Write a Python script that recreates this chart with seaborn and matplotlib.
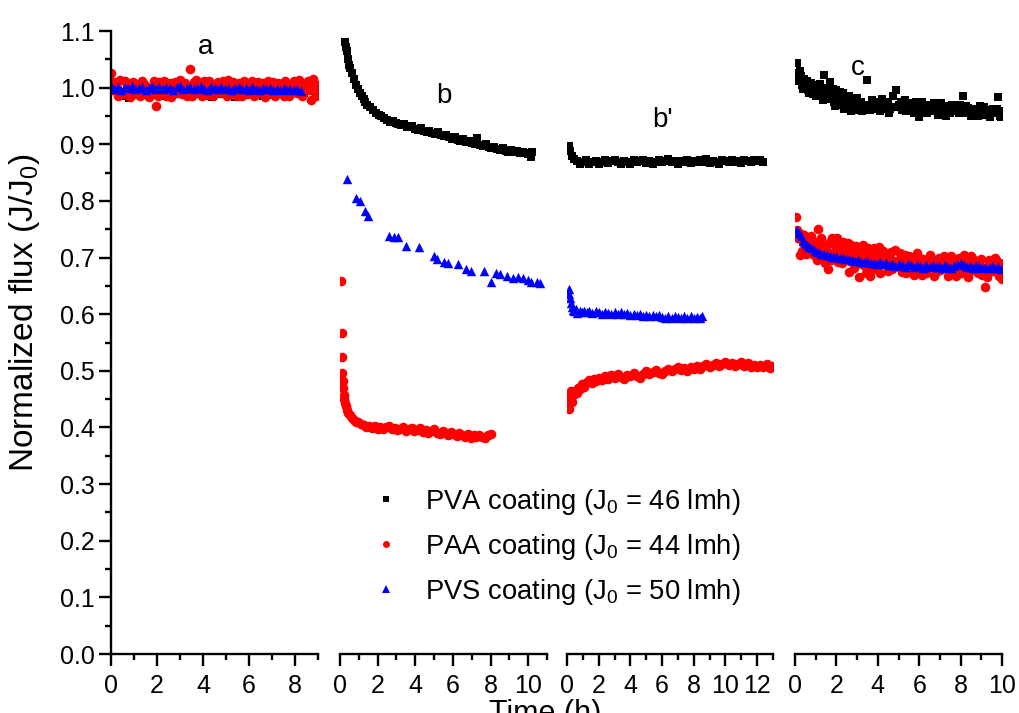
import matplotlib
matplotlib.use("Agg")
import matplotlib.pyplot as plt
import numpy as np
import pandas as pd
import seaborn as sns
from matplotlib.lines import Line2D
from matplotlib.ticker import MultipleLocator, FormatStrFormatter

# ---------------------------------------------------------------- data
# (time in h, normalized flux J/J0) for every coating in every run
pva_a = [(0.0, 1.000), (0.2, 0.995), (0.4, 0.990), (0.6, 0.986), (0.8, 0.982), (1.0, 0.988),
         (1.2, 0.993), (1.4, 0.990), (1.6, 0.987), (1.8, 0.992), (2.0, 0.995), (2.2, 0.990),
         (2.4, 0.985), (2.6, 0.984), (2.8, 0.989), (3.0, 0.993), (3.2, 0.996), (3.4, 0.992),
         (3.6, 0.988), (3.8, 0.994), (4.0, 0.990), (4.2, 0.986), (4.4, 0.984), (4.6, 0.989),
         (4.8, 0.993), (5.0, 0.991), (5.2, 0.987), (5.4, 0.984), (5.6, 0.988), (5.8, 0.992),
         (6.0, 0.995), (6.2, 0.991), (6.4, 0.988), (6.6, 0.985), (6.8, 0.987), (7.0, 0.990),
         (7.2, 0.994), (7.4, 0.992), (7.6, 0.989), (7.8, 0.993), (8.0, 0.996), (8.2, 0.992),
         (8.4, 0.990), (8.6, 0.994)]

paa_a = [(0.00, 1.025), (0.15, 1.010), (0.30, 0.985), (0.45, 0.990), (0.60, 1.012), (0.75, 0.995),
         (0.90, 1.008), (1.05, 0.988), (1.20, 1.005), (1.35, 1.012), (1.50, 0.992), (1.65, 0.984),
         (1.80, 1.000), (1.95, 0.968), (2.10, 1.010), (2.25, 0.994), (2.40, 0.986), (2.55, 1.008),
         (2.70, 1.002), (2.85, 0.990), (3.00, 1.014), (3.15, 0.996), (3.30, 0.986), (3.45, 1.033),
         (3.60, 1.010), (3.75, 0.992), (3.90, 0.998), (4.05, 1.012), (4.20, 0.987), (4.35, 1.006),
         (4.50, 0.994), (4.65, 1.010), (4.80, 0.990), (4.95, 1.002), (5.10, 1.014), (5.25, 0.988),
         (5.40, 0.996), (5.55, 1.008), (5.70, 0.986), (5.85, 1.004), (6.00, 0.993), (6.15, 1.012),
         (6.30, 0.990), (6.45, 1.000), (6.60, 1.008), (6.75, 0.987), (6.90, 0.996), (7.05, 1.010),
         (7.20, 0.992), (7.35, 1.004), (7.50, 0.986), (7.65, 1.006), (7.80, 0.997), (7.95, 1.012),
         (8.10, 0.990), (8.25, 1.004), (8.40, 0.994), (8.55, 1.012), (8.70, 0.978), (8.85, 1.006),
         (9.00, 0.998),
         (0.075, 0.995), (0.225, 1.004), (0.375, 1.013), (0.525, 0.988), (0.675, 1.003), (0.825, 0.984),
         (0.975, 1.010), (1.125, 0.996), (1.275, 0.985), (1.425, 1.006), (1.575, 1.002), (1.725, 0.990),
         (1.875, 1.012), (2.025, 0.985), (2.175, 1.003), (2.325, 1.012), (2.475, 0.995), (2.625, 0.984),
         (2.775, 1.010), (2.925, 1.004), (3.075, 0.988), (3.225, 1.008), (3.375, 0.994), (3.525, 0.985),
         (3.675, 1.013), (3.825, 1.004), (3.975, 0.986), (4.125, 0.996), (4.275, 1.011), (4.425, 0.985),
         (4.575, 1.004), (4.725, 0.993), (4.875, 1.012), (5.025, 0.985), (5.175, 1.000), (5.325, 1.010),
         (5.475, 0.986), (5.625, 0.994), (5.775, 1.012), (5.925, 0.988), (6.075, 1.004), (6.225, 0.985),
         (6.375, 1.010), (6.525, 0.993), (6.675, 0.984), (6.825, 1.012), (6.975, 1.002), (7.125, 0.985),
         (7.275, 1.009), (7.425, 0.994), (7.575, 1.012), (7.725, 0.986), (7.875, 1.004), (8.025, 0.994),
         (8.175, 1.014), (8.325, 0.986), (8.475, 1.008), (8.625, 0.996), (8.775, 1.016), (8.925, 0.985)]

pvs_a = [(0.00, 1.003), (0.15, 0.998), (0.30, 1.002), (0.45, 0.996), (0.60, 1.001), (0.75, 0.999),
         (0.90, 1.003), (1.05, 0.997), (1.20, 1.000), (1.35, 1.002), (1.50, 0.996), (1.65, 0.999),
         (1.80, 1.003), (1.95, 0.998), (2.10, 1.001), (2.25, 0.997), (2.40, 1.002), (2.55, 0.999),
         (2.70, 0.996), (2.85, 1.001), (3.00, 1.003), (3.15, 0.998), (3.30, 1.000), (3.45, 1.002),
         (3.60, 0.997), (3.75, 1.000), (3.90, 1.003), (4.05, 0.998), (4.20, 0.996), (4.35, 1.001),
         (4.50, 0.999), (4.65, 0.997), (4.80, 1.002), (4.95, 0.998), (5.10, 1.000), (5.25, 0.996),
         (5.40, 0.999), (5.55, 1.002), (5.70, 0.997), (5.85, 0.999), (6.00, 0.996), (6.15, 1.001),
         (6.30, 0.998), (6.45, 0.995), (6.60, 0.999), (6.75, 0.997), (6.90, 1.000), (7.05, 0.996),
         (7.20, 0.998), (7.35, 0.995), (7.50, 0.999), (7.65, 0.996), (7.80, 0.998), (7.95, 0.995),
         (8.10, 0.997), (8.25, 0.994)]

pva_b = [(0.25, 1.080), (0.30, 1.072), (0.35, 1.065), (0.45, 1.050), (0.50, 1.040), (0.55, 1.035),
         (0.65, 1.025), (0.75, 1.015), (0.85, 1.005), (0.95, 0.998), (1.05, 0.990), (1.15, 0.985),
         (1.25, 0.980), (1.35, 0.975), (1.45, 0.970), (1.60, 0.965), (1.75, 0.960), (1.90, 0.955),
         (2.05, 0.952), (2.20, 0.950), (2.35, 0.946), (2.50, 0.943), (2.65, 0.940), (2.80, 0.941),
         (2.95, 0.937), (3.10, 0.936), (3.25, 0.934), (3.40, 0.935), (3.55, 0.931), (3.70, 0.930),
         (3.85, 0.932), (4.00, 0.927), (4.15, 0.926), (4.30, 0.928), (4.45, 0.924), (4.60, 0.922),
         (4.75, 0.924), (4.90, 0.920), (5.05, 0.918), (5.20, 0.921), (5.35, 0.916), (5.50, 0.914),
         (5.65, 0.917), (5.80, 0.912), (5.95, 0.910), (6.10, 0.913), (6.25, 0.908), (6.40, 0.906),
         (6.55, 0.909), (6.70, 0.904), (6.85, 0.906), (7.00, 0.902), (7.15, 0.900), (7.30, 0.911),
         (7.45, 0.899), (7.60, 0.897), (7.75, 0.900), (7.90, 0.895), (8.05, 0.893), (8.20, 0.896),
         (8.35, 0.892), (8.50, 0.890), (8.65, 0.893), (8.80, 0.889), (8.95, 0.887), (9.10, 0.890),
         (9.25, 0.886), (9.40, 0.888), (9.55, 0.884), (9.70, 0.887), (9.85, 0.885), (10.00, 0.883),
         (10.15, 0.878), (10.20, 0.886)]

paa_b = [(0.05, 0.659), (0.08, 0.567), (0.10, 0.525), (0.12, 0.497), (0.14, 0.482), (0.17, 0.470),
         (0.20, 0.458), (0.23, 0.450), (0.27, 0.443), (0.32, 0.437), (0.38, 0.430), (0.45, 0.426),
         (0.55, 0.422), (0.65, 0.416), (0.75, 0.413), (0.85, 0.410), (0.95, 0.409), (1.10, 0.406),
         (1.25, 0.404), (1.40, 0.401), (1.55, 0.403), (1.70, 0.399), (1.85, 0.402), (2.00, 0.398),
         (2.15, 0.401), (2.30, 0.397), (2.45, 0.400), (2.60, 0.403), (2.75, 0.397), (2.90, 0.399),
         (3.05, 0.395), (3.20, 0.398), (3.35, 0.401), (3.50, 0.394), (3.65, 0.397), (3.80, 0.399),
         (3.95, 0.393), (4.10, 0.396), (4.25, 0.399), (4.40, 0.392), (4.55, 0.395), (4.70, 0.390),
         (4.85, 0.394), (5.00, 0.397), (5.15, 0.391), (5.30, 0.388), (5.45, 0.393), (5.60, 0.390),
         (5.75, 0.386), (5.90, 0.392), (6.05, 0.389), (6.20, 0.385), (6.35, 0.390), (6.50, 0.387),
         (6.65, 0.384), (6.80, 0.389), (6.95, 0.381), (7.10, 0.386), (7.25, 0.383), (7.40, 0.387),
         (7.55, 0.384), (7.70, 0.382), (7.85, 0.386), (8.00, 0.389)]

pvs_b = [(0.37, 0.838), (0.85, 0.806), (1.05, 0.800), (1.35, 0.783), (1.50, 0.773), (2.60, 0.738),
         (2.85, 0.737), (3.10, 0.737), (3.50, 0.721), (4.20, 0.719), (5.00, 0.703), (5.15, 0.698),
         (5.55, 0.692), (5.75, 0.690), (6.25, 0.688), (6.70, 0.679), (6.95, 0.677), (7.65, 0.677),
         (8.00, 0.657), (8.30, 0.672), (8.50, 0.671), (8.90, 0.667), (9.20, 0.664), (9.45, 0.666),
         (9.75, 0.664), (10.00, 0.660), (10.15, 0.656), (10.45, 0.657), (10.65, 0.655)]

pva_b2 = [(0.15, 0.897), (0.20, 0.888), (0.30, 0.880), (0.45, 0.874), (0.60, 0.870), (0.80, 0.866),
          (1.00, 0.869), (1.20, 0.872), (1.40, 0.865), (1.60, 0.868), (1.80, 0.871), (2.00, 0.866),
          (2.20, 0.869), (2.40, 0.872), (2.60, 0.867), (2.80, 0.870), (3.00, 0.873), (3.20, 0.868),
          (3.40, 0.866), (3.60, 0.871), (3.80, 0.869), (4.00, 0.866), (4.20, 0.872), (4.40, 0.868),
          (4.60, 0.870), (4.80, 0.873), (5.00, 0.867), (5.20, 0.870), (5.40, 0.865), (5.60, 0.869),
          (5.80, 0.872), (6.00, 0.868), (6.20, 0.871), (6.40, 0.874), (6.60, 0.868), (6.80, 0.870),
          (7.00, 0.866), (7.20, 0.871), (7.40, 0.869), (7.60, 0.873), (7.80, 0.867), (8.00, 0.870),
          (8.20, 0.868), (8.40, 0.872), (8.60, 0.869), (8.80, 0.874), (9.00, 0.867), (9.20, 0.871),
          (9.40, 0.869), (9.60, 0.866), (9.80, 0.872), (10.00, 0.870), (10.20, 0.868), (10.40, 0.873),
          (10.60, 0.869), (10.80, 0.871), (11.00, 0.867), (11.20, 0.872), (11.40, 0.870), (11.60, 0.868),
          (11.80, 0.873), (12.00, 0.870), (12.20, 0.872), (12.40, 0.869)]

paa_b2 = [(0.05, 0.440), (0.10, 0.458), (0.15, 0.432), (0.20, 0.450), (0.25, 0.465), (0.30, 0.445),
          (0.40, 0.458), (0.50, 0.465), (0.60, 0.460), (0.70, 0.470), (0.80, 0.468), (0.95, 0.476),
          (1.10, 0.472), (1.25, 0.480), (1.40, 0.483), (1.55, 0.478), (1.70, 0.486), (1.85, 0.482),
          (2.00, 0.488), (2.20, 0.484), (2.40, 0.490), (2.60, 0.486), (2.80, 0.492), (3.00, 0.488),
          (3.20, 0.494), (3.40, 0.489), (3.60, 0.486), (3.80, 0.493), (4.00, 0.490), (4.20, 0.496),
          (4.40, 0.491), (4.60, 0.488), (4.80, 0.495), (5.00, 0.499), (5.20, 0.494), (5.40, 0.498),
          (5.60, 0.502), (5.80, 0.497), (6.00, 0.494), (6.20, 0.500), (6.40, 0.504), (6.60, 0.499),
          (6.80, 0.503), (7.00, 0.507), (7.20, 0.501), (7.40, 0.505), (7.60, 0.500), (7.80, 0.506),
          (8.00, 0.503), (8.20, 0.509), (8.40, 0.504), (8.60, 0.508), (8.80, 0.512), (9.00, 0.506),
          (9.20, 0.510), (9.40, 0.514), (9.60, 0.508), (9.80, 0.512), (10.00, 0.516), (10.20, 0.510),
          (10.40, 0.514), (10.60, 0.508), (10.80, 0.512), (11.00, 0.515), (11.20, 0.509), (11.40, 0.513),
          (11.60, 0.507), (11.80, 0.511), (12.00, 0.506), (12.20, 0.511), (12.40, 0.507), (12.60, 0.512),
          (12.80, 0.505), (12.95, 0.509)]

pvs_b2 = [(0.10, 0.645), (0.15, 0.636), (0.20, 0.628), (0.25, 0.620), (0.30, 0.613), (0.35, 0.607),
          (0.45, 0.605), (0.55, 0.610), (0.65, 0.602), (0.80, 0.605), (0.95, 0.603), (1.10, 0.606),
          (1.25, 0.603), (1.40, 0.605), (1.60, 0.602), (1.80, 0.605), (2.00, 0.603), (2.20, 0.601),
          (2.40, 0.604), (2.60, 0.602), (2.80, 0.600), (3.00, 0.603), (3.20, 0.601), (3.40, 0.603),
          (3.60, 0.600), (3.80, 0.602), (4.00, 0.599), (4.20, 0.601), (4.40, 0.598), (4.60, 0.600),
          (4.80, 0.597), (5.00, 0.599), (5.20, 0.597), (5.40, 0.599), (5.60, 0.596), (5.80, 0.598),
          (6.00, 0.595), (6.20, 0.593), (6.40, 0.596), (6.60, 0.594), (6.80, 0.597), (7.00, 0.595),
          (7.20, 0.593), (7.40, 0.596), (7.60, 0.594), (7.80, 0.596), (8.00, 0.593), (8.20, 0.595),
          (8.40, 0.594), (8.55, 0.596)]

pva_c = [(0.10, 1.044), (0.15, 1.026), (0.20, 1.012), (0.25, 1.030), (0.35, 1.005), (0.45, 1.015),
         (0.55, 1.000), (0.65, 0.995), (0.75, 1.008), (0.85, 0.988), (0.95, 0.998), (1.05, 0.990),
         (1.15, 1.002), (1.25, 0.985), (1.40, 1.023), (1.50, 0.993), (1.60, 0.980), (1.70, 1.010),
         (1.80, 0.988), (1.90, 0.975), (2.00, 0.995), (2.10, 0.982), (2.20, 0.970), (2.30, 0.990),
         (2.40, 0.978), (2.50, 0.965), (2.60, 0.985), (2.70, 0.958), (2.80, 0.975), (2.90, 0.968),
         (3.00, 0.982), (3.10, 0.962), (3.20, 0.975), (3.35, 0.970), (3.50, 1.014), (3.60, 0.960),
         (3.70, 0.978), (3.80, 0.966), (3.95, 0.972), (4.10, 0.958), (4.20, 0.980), (4.35, 0.968),
         (4.50, 0.975), (4.60, 0.962), (4.75, 0.985), (4.90, 0.996), (5.00, 0.970), (5.15, 0.960),
         (5.30, 0.978), (5.45, 0.966), (5.60, 0.972), (5.75, 0.955), (5.90, 0.968), (6.00, 0.948),
         (6.15, 0.975), (6.30, 0.962), (6.45, 0.970), (6.60, 0.958), (6.75, 0.966), (6.90, 0.952),
         (7.05, 0.972), (7.20, 0.960), (7.35, 0.968), (7.50, 0.955), (7.65, 0.964), (7.80, 0.958),
         (7.95, 0.970), (8.10, 0.986), (8.20, 0.955), (8.35, 0.964), (8.50, 0.950), (8.65, 0.962),
         (8.80, 0.956), (8.95, 0.968), (9.10, 0.952), (9.25, 0.960), (9.40, 0.948), (9.55, 0.962),
         (9.70, 0.955), (9.80, 0.984), (9.90, 0.950), (10.00, 0.958),
         (0.30, 1.020), (0.40, 0.998), (0.60, 1.012), (0.70, 0.990), (0.90, 1.004), (1.00, 0.985),
         (1.10, 0.995), (1.20, 1.006), (1.35, 0.978), (1.55, 1.000), (1.65, 0.985), (1.85, 0.998),
         (1.95, 0.968), (2.15, 0.992), (2.35, 0.962), (2.55, 0.980), (2.75, 0.972), (2.95, 0.960),
         (3.05, 0.972), (3.25, 0.958), (3.45, 0.965), (3.75, 0.962), (4.00, 0.975), (4.30, 0.962),
         (4.55, 0.955), (4.80, 0.965), (5.10, 0.975), (5.35, 0.958), (5.55, 0.962), (5.85, 0.975),
         (6.10, 0.962), (6.40, 0.955), (6.70, 0.972), (7.00, 0.958), (7.30, 0.950), (7.60, 0.970),
         (7.90, 0.955), (8.25, 0.968), (8.55, 0.960), (8.85, 0.950), (9.15, 0.966), (9.45, 0.958),
         (9.75, 0.962), (9.95, 0.948)]

paa_c = [(0.05, 0.772), (0.10, 0.749), (0.15, 0.735), (0.25, 0.705), (0.30, 0.742), (0.40, 0.728),
         (0.50, 0.718), (0.60, 0.732), (0.70, 0.712), (0.80, 0.725), (0.90, 0.705), (1.00, 0.720),
         (1.10, 0.751), (1.20, 0.708), (1.30, 0.722), (1.40, 0.700), (1.50, 0.715), (1.60, 0.680),
         (1.70, 0.728), (1.80, 0.735), (1.90, 0.705), (2.00, 0.720), (2.10, 0.692), (2.20, 0.712),
         (2.30, 0.728), (2.40, 0.698), (2.50, 0.716), (2.60, 0.675), (2.70, 0.722), (2.80, 0.705),
         (2.90, 0.690), (3.00, 0.715), (3.10, 0.665), (3.20, 0.700), (3.30, 0.722), (3.40, 0.685),
         (3.50, 0.710), (3.60, 0.668), (3.70, 0.698), (3.80, 0.716), (3.90, 0.690), (4.00, 0.705),
         (4.10, 0.672), (4.25, 0.712), (4.40, 0.688), (4.55, 0.702), (4.70, 0.680), (4.85, 0.714),
         (5.00, 0.695), (5.15, 0.675), (5.30, 0.705), (5.45, 0.688), (5.60, 0.700), (5.75, 0.670),
         (5.90, 0.708), (6.05, 0.685), (6.20, 0.698), (6.35, 0.672), (6.50, 0.705), (6.65, 0.688),
         (6.80, 0.675), (6.95, 0.700), (7.10, 0.682), (7.25, 0.695), (7.40, 0.668), (7.55, 0.702),
         (7.70, 0.684), (7.85, 0.694), (8.00, 0.672), (8.15, 0.704), (8.30, 0.686), (8.45, 0.676),
         (8.60, 0.698), (8.75, 0.682), (8.90, 0.692), (9.05, 0.670), (9.20, 0.648), (9.35, 0.695),
         (9.50, 0.680), (9.65, 0.700), (9.80, 0.672), (9.90, 0.690), (10.00, 0.662),
         (0.35, 0.712), (0.45, 0.740), (0.55, 0.706), (0.65, 0.724), (0.75, 0.738), (0.85, 0.714),
         (0.95, 0.728), (1.05, 0.696), (1.15, 0.726), (1.25, 0.735), (1.35, 0.712), (1.45, 0.690),
         (1.55, 0.722), (1.65, 0.708), (1.75, 0.695), (1.85, 0.726), (1.95, 0.712), (2.05, 0.735),
         (2.15, 0.702), (2.25, 0.690), (2.35, 0.716), (2.45, 0.706), (2.55, 0.725), (2.65, 0.694),
         (2.75, 0.710), (2.85, 0.682), (2.95, 0.720), (3.05, 0.700), (3.15, 0.714), (3.25, 0.688),
         (3.35, 0.706), (3.45, 0.672), (3.55, 0.716), (3.65, 0.695), (3.75, 0.680), (3.85, 0.708),
         (3.95, 0.698), (4.05, 0.718), (4.18, 0.690), (4.32, 0.700), (4.48, 0.676), (4.62, 0.710),
         (4.78, 0.694), (4.92, 0.685), (5.08, 0.708), (5.22, 0.690), (5.38, 0.672), (5.52, 0.702),
         (5.68, 0.692), (5.82, 0.680), (5.98, 0.700), (6.12, 0.670), (6.28, 0.694), (6.42, 0.685),
         (6.58, 0.700), (6.72, 0.668), (6.88, 0.690), (7.02, 0.678), (7.18, 0.702), (7.32, 0.688),
         (7.48, 0.676), (7.62, 0.696), (7.78, 0.668), (7.92, 0.700), (8.08, 0.684), (8.22, 0.692),
         (8.38, 0.666), (8.52, 0.702), (8.68, 0.688), (8.82, 0.672), (8.98, 0.698), (9.12, 0.682),
         (9.28, 0.666), (9.42, 0.692), (9.58, 0.676), (9.72, 0.695), (9.86, 0.668), (9.96, 0.684)]

pvs_c = [(0.10, 0.748), (0.20, 0.744), (0.30, 0.738), (0.40, 0.730), (0.50, 0.726), (0.60, 0.722),
         (0.70, 0.718), (0.80, 0.716), (0.95, 0.712), (1.10, 0.710), (1.25, 0.706), (1.40, 0.707),
         (1.55, 0.704), (1.70, 0.703), (1.85, 0.701), (2.00, 0.702), (2.15, 0.699), (2.30, 0.700),
         (2.45, 0.697), (2.60, 0.698), (2.75, 0.695), (2.90, 0.694), (3.05, 0.696), (3.20, 0.693),
         (3.35, 0.692), (3.50, 0.694), (3.65, 0.690), (3.80, 0.691), (3.95, 0.689), (4.10, 0.692),
         (4.25, 0.688), (4.40, 0.690), (4.55, 0.686), (4.70, 0.688), (4.85, 0.685), (5.00, 0.689),
         (5.15, 0.687), (5.30, 0.684), (5.45, 0.688), (5.60, 0.686), (5.75, 0.683), (5.90, 0.687),
         (6.05, 0.685), (6.20, 0.682), (6.35, 0.686), (6.50, 0.684), (6.65, 0.687), (6.80, 0.683),
         (6.95, 0.685), (7.10, 0.682), (7.25, 0.686), (7.40, 0.684), (7.55, 0.681), (7.70, 0.685),
         (7.85, 0.688), (8.00, 0.690), (8.15, 0.686), (8.30, 0.683), (8.45, 0.685), (8.60, 0.682),
         (8.75, 0.686), (8.90, 0.683), (9.05, 0.681), (9.20, 0.684), (9.35, 0.682), (9.50, 0.685),
         (9.65, 0.681), (9.80, 0.683), (9.95, 0.680)]

coatings = ["PVA", "PAA", "PVS"]
j0_lmh = [46, 44, 50]
panel_names = ["a", "b", "b'", "c"]
panel_tmax = [9, 11, 13, 10]
panel_label_pos = [(4.1, 1.072), (5.5, 0.985), (6.05, 0.943), (3.05, 1.035)]

runs = {
    "a": {"PVA": pva_a, "PAA": paa_a, "PVS": pvs_a},
    "b": {"PVA": pva_b, "PAA": paa_b, "PVS": pvs_b},
    "b'": {"PVA": pva_b2, "PAA": paa_b2, "PVS": pvs_b2},
    "c": {"PVA": pva_c, "PAA": paa_c, "PVS": pvs_c},
}

rows = []
for panel, series in runs.items():
    for coating, pts in series.items():
        for t, v in pts:
            rows.append({"panel": panel, "coating": coating, "time": t, "flux": v})
df = pd.DataFrame(rows)

# ---------------------------------------------------------------- style
sns.set_theme(style="ticks")
plt.rcParams["font.family"] = ["Liberation Sans", "DejaVu Sans"]
plt.rcParams["mathtext.fontset"] = "custom"
plt.rcParams["mathtext.rm"] = "Liberation Sans"
plt.rcParams["mathtext.it"] = "Liberation Sans:italic"
plt.rcParams["mathtext.bf"] = "Liberation Sans:bold"
for key in ("text.color", "axes.labelcolor", "xtick.color", "ytick.color",
            "axes.edgecolor", "xtick.labelcolor", "ytick.labelcolor"):
    plt.rcParams[key] = "black"

colors = {"PVA": "#000000", "PAA": "#ff0000", "PVS": "#0000ff"}
markers = {"PVA": "s", "PAA": "o", "PVS": "^"}
msize = {"PVA": 30, "PAA": 48, "PVS": 46}

W, H = 1019, 713
fig = plt.figure(figsize=(W / 100, H / 100), dpi=100)

left_px = [111, 340, 567, 795]
width_px = [207, 207, 206, 207]
y0_px, y1_px = 654, 31
TICK_FS = 18

axes = []
for i, name in enumerate(panel_names):
    ax = fig.add_axes([left_px[i] / W, (H - y0_px) / H, width_px[i] / W, (y0_px - y1_px) / H])
    sub = df[df["panel"] == name]
    for c in coatings:
        s = sub[sub["coating"] == c]
        sns.scatterplot(data=s, x="time", y="flux", ax=ax, color=colors[c],
                        marker=markers[c], s=msize[c], linewidth=0, legend=False)
    ax.set_xlim(0, panel_tmax[i])
    ax.set_ylim(0, 1.1)
    ax.set_xlabel("")
    ax.set_ylabel("")
    ax.xaxis.set_major_locator(MultipleLocator(2))
    ax.xaxis.set_minor_locator(MultipleLocator(1))
    ax.xaxis.set_major_formatter(FormatStrFormatter("%d"))
    for side in ("top", "right"):
        ax.spines[side].set_visible(False)
    ax.spines["bottom"].set_linewidth(1.7)
    ax.spines["left"].set_linewidth(1.7)
    ax.tick_params(axis="both", which="major", direction="out", length=8.5, width=1.7,
                   labelsize=TICK_FS, color="black")
    ax.tick_params(axis="both", which="minor", direction="out", length=4.3, width=1.7,
                   color="black")
    ax.tick_params(axis="x", which="major", pad=6)
    ax.tick_params(axis="y", which="major", pad=3)
    if i == 0:
        ax.yaxis.set_major_locator(MultipleLocator(0.1))
        ax.yaxis.set_minor_locator(MultipleLocator(0.05))
        ax.yaxis.set_major_formatter(FormatStrFormatter("%.1f"))
    else:
        ax.spines["left"].set_visible(False)
        ax.tick_params(axis="y", which="both", left=False, labelleft=False)
    ax.patch.set_alpha(0)
    lx, ly = panel_label_pos[i]
    ax.text(lx, ly, name, fontsize=20, ha="center", va="center")
    axes.append(ax)

# axis titles
fig.text(25 / W, 1 - 313 / H, "Normalized flux (J/J$_0$)", rotation=90,
         ha="center", va="center", fontsize=24)
fig.text(545 / W, 1 - 699 / H, "Time (h)", ha="center", va="top", fontsize=22)

# legend
handles = [Line2D([], [], linestyle="none", marker=markers[c], color=colors[c],
                  markersize={"PVA": 4.5, "PAA": 5.0, "PVS": 5.5}[c], markeredgewidth=0)
           for c in coatings]
labels = [f"{c} coating (J$_0$ = {j} lmh)" for c, j in zip(coatings, j0_lmh)]
fig.legend(handles, labels, loc="center left", bbox_to_anchor=(372 / W, 1 - 547 / H),
           frameon=False, fontsize=19.7, handlelength=1.0, handletextpad=0.92,
           borderpad=0, borderaxespad=0, labelspacing=0.55)

fig.savefig("out.png", dpi=100)
